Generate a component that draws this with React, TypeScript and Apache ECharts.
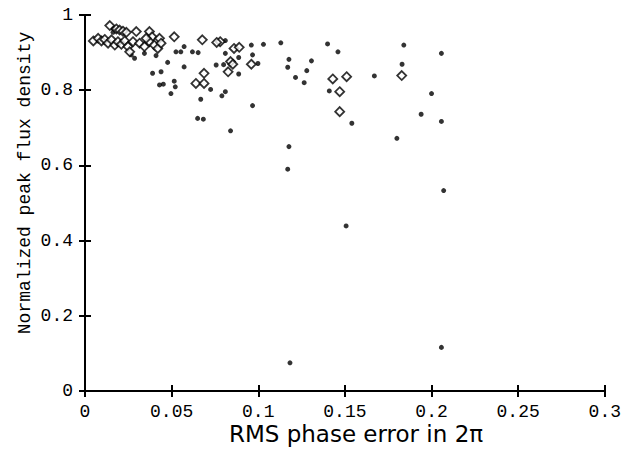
import React, { useEffect, useRef } from "react";
import * as echarts from "echarts";

const xTicks = [0, 0.05, 0.1, 0.15, 0.2, 0.25, 0.3];
const yTicks = [0, 0.2, 0.4, 0.6, 0.8, 1];

const diamondPoints: [number, number][] = [
  [0.0048, 0.931], [0.0076, 0.938], [0.0095, 0.931], [0.0114, 0.935], [0.0133, 0.925],
  [0.0153, 0.934], [0.0172, 0.92], [0.019, 0.929], [0.021, 0.922], [0.0229, 0.931],
  [0.0248, 0.916], [0.0258, 0.902], [0.0277, 0.929],
  [0.0143, 0.972], [0.0181, 0.963], [0.02, 0.96], [0.0219, 0.957], [0.0239, 0.954],
  [0.0296, 0.956], [0.0315, 0.925], [0.0343, 0.916], [0.0372, 0.956], [0.0387, 0.942],
  [0.0372, 0.929], [0.04, 0.92], [0.043, 0.938], [0.042, 0.911], [0.0439, 0.925], [0.0353, 0.938],
  [0.0515, 0.942], [0.0677, 0.934],
  [0.0687, 0.845], [0.064, 0.818], [0.0687, 0.818],
  [0.078, 0.929], [0.076, 0.927],
  [0.086, 0.911], [0.089, 0.914],
  [0.084, 0.876], [0.0853, 0.869], [0.0826, 0.849], [0.096, 0.869],
  [0.143, 0.83], [0.151, 0.836], [0.147, 0.796], [0.147, 0.743], [0.1828, 0.839],
];

const dotPoints: [number, number][] = [
  [0.0162, 0.964], [0.0162, 0.954], [0.0267, 0.894], [0.0286, 0.885], [0.0343, 0.898],
  [0.041, 0.892], [0.0477, 0.874], [0.0525, 0.902], [0.0553, 0.902], [0.0572, 0.916],
  [0.062, 0.902], [0.0653, 0.9], [0.0572, 0.862], [0.039, 0.845], [0.0439, 0.849],
  [0.043, 0.814], [0.0452, 0.816], [0.0515, 0.824], [0.0521, 0.809], [0.0496, 0.791],
  [0.0668, 0.776],
  [0.081, 0.898], [0.0887, 0.887], [0.0967, 0.894], [0.0757, 0.867], [0.08, 0.868],
  [0.0887, 0.843], [0.0998, 0.871], [0.0725, 0.802], [0.081, 0.796], [0.079, 0.785],
  [0.0967, 0.759], [0.0683, 0.723], [0.065, 0.725], [0.084, 0.692],
  [0.096, 0.92], [0.103, 0.922], [0.113, 0.926], [0.14, 0.923], [0.1177, 0.882],
  [0.117, 0.861], [0.1307, 0.878], [0.128, 0.852], [0.1215, 0.834], [0.1265, 0.82],
  [0.146, 0.902], [0.184, 0.92], [0.2057, 0.898], [0.183, 0.869], [0.167, 0.838],
  [0.141, 0.798], [0.154, 0.712], [0.2, 0.791], [0.194, 0.736], [0.2057, 0.717],
  [0.18, 0.672],
  [0.1177, 0.65], [0.117, 0.59], [0.207, 0.533], [0.1507, 0.439], [0.1183, 0.075],
  [0.2057, 0.116], [0.081, 0.932],
];

const xTitle = "RMS phase error in 2π";
const yTitle = "Normalized peak flux density";

export default function App() {
  const ref = useRef<HTMLDivElement>(null);
  useEffect(() => {
    if (!ref.current) return;
    const chart = echarts.init(ref.current, null, { renderer: "svg" });
    const mono = "'Courier New', 'Liberation Mono', monospace";
    const axisCommon = {
      min: 0,
      axisLine: { show: true, lineStyle: { color: "#000", width: 2 } },
      axisTick: { show: true, inside: true, length: 6, lineStyle: { color: "#000", width: 2 } },
      splitLine: { show: false },
    };
    chart.setOption({
      animation: false,
      backgroundColor: "#fff",
      grid: { left: 85, right: 15, top: 15, bottom: 58 },
      xAxis: [
        {
          ...axisCommon,
          type: "value",
          max: 0.3,
          interval: 0.05,
          position: "bottom",
          axisLabel: {
            color: "#000",
            fontFamily: mono,
            fontSize: 18,
            margin: 12,
            formatter: (v: number) => {
              const t = xTicks.find((k) => Math.abs(k - v) < 1e-9);
              return t === undefined ? "" : String(t);
            },
          },
        },
        {
          ...axisCommon,
          type: "value",
          max: 0.3,
          interval: 0.05,
          position: "top",
          axisLabel: { show: false },
        },
      ],
      yAxis: [
        {
          ...axisCommon,
          type: "value",
          max: 1,
          interval: 0.2,
          position: "left",
          axisLabel: {
            color: "#000",
            fontFamily: mono,
            fontSize: 18,
            margin: 12,
            formatter: (v: number) => {
              const t = yTicks.find((k) => Math.abs(k - v) < 1e-9);
              return t === undefined ? "" : String(t);
            },
          },
        },
        {
          ...axisCommon,
          type: "value",
          max: 1,
          interval: 0.2,
          position: "right",
          axisLabel: { show: false },
        },
      ],
      graphic: [
        {
          type: "text",
          x: 25,
          y: 183,
          rotation: Math.PI / 2,
          style: {
            text: yTitle,
            fill: "#000",
            font: `18px ${mono}`,
            textAlign: "center",
            textVerticalAlign: "middle",
          },
        },
        {
          type: "text",
          x: 356,
          y: 434,
          style: {
            text: xTitle,
            fill: "#000",
            font: "23px 'DejaVu Sans', sans-serif",
            textAlign: "center",
            textVerticalAlign: "middle",
          },
        },
      ],
      series: [
        {
          type: "scatter",
          name: "dots",
          data: dotPoints,
          symbol: "circle",
          symbolSize: 5,
          itemStyle: { color: "#000" },
        },
        {
          type: "scatter",
          name: "diamonds",
          data: diamondPoints,
          symbol: "diamond",
          symbolSize: 9,
          itemStyle: { color: "#fff", borderColor: "#000", borderWidth: 1.8 },
        },
      ],
    });
    return () => chart.dispose();
  }, []);
  return (
    <div
      ref={ref}
      style={{ width: 624, height: 449, position: "absolute", left: 0, top: 0 }}
    />
  );
}
